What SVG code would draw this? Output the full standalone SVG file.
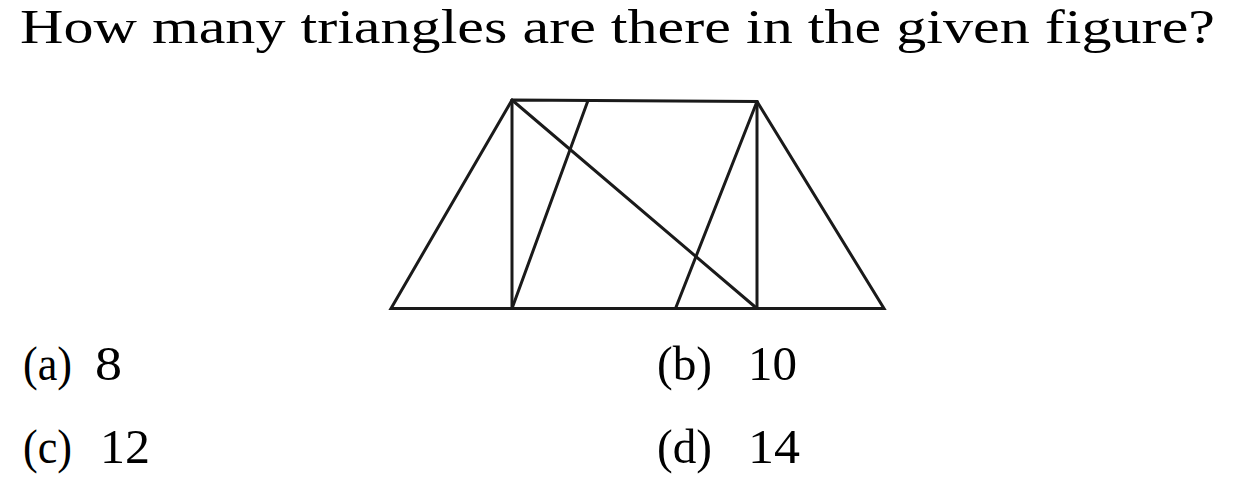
<svg xmlns="http://www.w3.org/2000/svg" width="1235" height="493" viewBox="0 0 1235 493">
<style>
.t{font-family:"Liberation Serif","DejaVu Serif",serif;fill:#000}
.q{font-size:48px}
.o{font-size:49px}
.ln{stroke:#1a1a1a;stroke-width:3;fill:none;stroke-linecap:round;stroke-linejoin:miter}
</style>
<rect width="1235" height="493" fill="#fff"/>
<g id="question">
<text class="t q" x="20" y="43" textLength="1195" lengthAdjust="spacingAndGlyphs">How many triangles are there in the given figure?</text>
</g>
<g id="figure">
<polygon class="ln" points="512,100 757,101.5 884,308.5 391,308.5"/>
<line class="ln" x1="512" y1="100" x2="512" y2="308.5"/>
<line class="ln" x1="757" y1="101.5" x2="757" y2="308.5"/>
<line class="ln" x1="512" y1="100" x2="757" y2="308.5"/>
<line class="ln" x1="588" y1="100.5" x2="512" y2="308.5"/>
<line class="ln" x1="757" y1="101.5" x2="675.5" y2="308.5"/>
</g>
<g id="option-a">
<text class="t o" x="23" y="380" textLength="49" lengthAdjust="spacingAndGlyphs">(a)</text>
<text class="t o" x="95" y="380" textLength="27" lengthAdjust="spacingAndGlyphs">8</text>
</g>
<g id="option-b">
<text class="t o" x="657" y="380" textLength="55" lengthAdjust="spacingAndGlyphs">(b)</text>
<text class="t o" x="748" y="380" textLength="49" lengthAdjust="spacingAndGlyphs">10</text>
</g>
<g id="option-c">
<text class="t o" x="23" y="463" textLength="49" lengthAdjust="spacingAndGlyphs">(c)</text>
<text class="t o" x="100" y="463" textLength="50" lengthAdjust="spacingAndGlyphs">12</text>
</g>
<g id="option-d">
<text class="t o" x="657" y="463" textLength="55" lengthAdjust="spacingAndGlyphs">(d)</text>
<text class="t o" x="748" y="463" textLength="52" lengthAdjust="spacingAndGlyphs">14</text>
</g>
</svg>
